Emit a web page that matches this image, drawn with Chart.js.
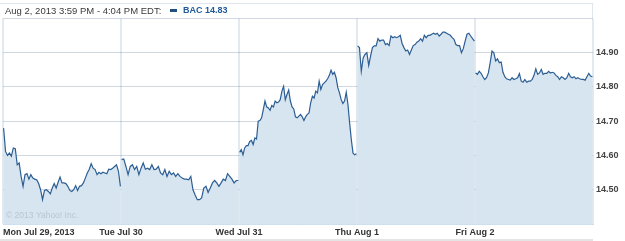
<!DOCTYPE html>
<html>
<head>
<meta charset="utf-8">
<script src="https://cdn.jsdelivr.net/npm/chart.js@4/dist/chart.umd.min.js"></script>
<style>
html,body{margin:0;padding:0;background:#fff;}
#wrap{position:relative;width:625px;height:241px;}
</style>
</head>
<body>
<div id="wrap"><canvas id="c" width="625" height="241"></canvas></div>
<script>
// ---- data (BAC intraday, Jul 29 – Aug 2, 2013) ----
const dayLabels = ['Mon Jul 29, 2013', 'Tue Jul 30', 'Wed Jul 31', 'Thu Aug 1', 'Fri Aug 2'];
const yTickLabels = ['14.50', '14.60', '14.70', '14.80', '14.90'];
const headerText = 'Aug 2, 2013 3:59 PM - 4:04 PM EDT:';
const seriesName = 'BAC 14.83';
const copyrightText = '\u00A9 2013 Yahoo! Inc.';

const mon = [14.680, 14.612, 14.600, 14.607, 14.598, 14.622, 14.620, 14.573, 14.578, 14.539, 14.510, 14.544, 14.547, 14.531, 14.544, 14.534, 14.531, 14.529, 14.518, 14.500, 14.471, 14.498, 14.500, 14.495, 14.488, 14.505, 14.518, 14.505, 14.522, 14.537, 14.520, 14.520, 14.518, 14.510, 14.498, 14.495, 14.500, 14.512, 14.498, 14.510, 14.512, 14.520, 14.534, 14.549, 14.560, 14.576, 14.563, 14.559, 14.544, 14.551, 14.547, 14.551, 14.549, 14.547, 14.560, 14.559, 14.563, 14.568, 14.573, 14.554, 14.510];
const tue = [14.588, 14.590, 14.568, 14.544, 14.568, 14.573, 14.559, 14.568, 14.544, 14.563, 14.578, 14.560, 14.563, 14.559, 14.573, 14.559, 14.560, 14.568, 14.549, 14.544, 14.559, 14.539, 14.554, 14.544, 14.549, 14.539, 14.547, 14.539, 14.534, 14.531, 14.531, 14.529, 14.539, 14.500, 14.485, 14.471, 14.471, 14.476, 14.505, 14.510, 14.492, 14.505, 14.520, 14.527, 14.520, 14.510, 14.520, 14.531, 14.527, 14.547, 14.539, 14.531, 14.520, 14.527, 14.527];
const wed = [14.609, 14.617, 14.602, 14.622, 14.629, 14.629, 14.641, 14.644, 14.632, 14.651, 14.648, 14.700, 14.702, 14.710, 14.734, 14.759, 14.742, 14.739, 14.732, 14.746, 14.742, 14.759, 14.754, 14.756, 14.763, 14.788, 14.802, 14.763, 14.778, 14.791, 14.759, 14.742, 14.736, 14.713, 14.710, 14.715, 14.720, 14.713, 14.702, 14.713, 14.720, 14.724, 14.754, 14.773, 14.768, 14.788, 14.783, 14.817, 14.793, 14.807, 14.812, 14.817, 14.824, 14.834, 14.849, 14.837, 14.843, 14.827, 14.798, 14.783, 14.763, 14.752, 14.759, 14.785, 14.749, 14.695, 14.646, 14.607, 14.602, 14.605];
const thu = [14.920, 14.915, 14.846, 14.885, 14.895, 14.900, 14.863, 14.890, 14.915, 14.920, 14.920, 14.941, 14.934, 14.937, 14.937, 14.924, 14.927, 14.921, 14.949, 14.944, 14.947, 14.944, 14.947, 14.951, 14.927, 14.915, 14.905, 14.908, 14.895, 14.908, 14.921, 14.924, 14.931, 14.934, 14.941, 14.934, 14.951, 14.944, 14.951, 14.951, 14.954, 14.957, 14.954, 14.957, 14.949, 14.954, 14.960, 14.960, 14.957, 14.954, 14.951, 14.944, 14.939, 14.924, 14.921, 14.921, 14.900, 14.912, 14.934, 14.954, 14.957, 14.949, 14.941, 14.934];
const fri = [14.841, 14.837, 14.846, 14.840, 14.830, 14.822, 14.827, 14.841, 14.871, 14.905, 14.900, 14.876, 14.882, 14.871, 14.873, 14.843, 14.830, 14.824, 14.822, 14.820, 14.827, 14.822, 14.824, 14.827, 14.839, 14.817, 14.814, 14.822, 14.814, 14.817, 14.817, 14.822, 14.834, 14.853, 14.837, 14.841, 14.851, 14.837, 14.840, 14.840, 14.846, 14.841, 14.843, 14.841, 14.834, 14.830, 14.822, 14.830, 14.827, 14.822, 14.827, 14.840, 14.830, 14.827, 14.830, 14.824, 14.827, 14.824, 14.822, 14.822, 14.820, 14.830, 14.840, 14.832, 14.830];

const sessions = [mon, tue, wed, thu, fri];

// build time-positioned points: x = day index + fraction of trading session
const points = [];
const dayOf = [];
sessions.forEach((arr, d) => {
  arr.forEach((v, i) => {
    points.push({ x: d + 0.005 + 0.99 * i / (arr.length - 1), y: v });
    dayOf.push(d);
  });
});

const LINE = '#2c5e94';
const FILL = '#d7e5f0';

const overlay = {
  id: 'overlay',
  beforeDraw(chart) {
    const c = chart.ctx;
    const a = chart.chartArea;
    c.save();
    c.strokeStyle = '#e0e6ec';
    c.lineWidth = 1;
    c.beginPath();
    c.moveTo(0, 3.5); c.lineTo(a.right + 0.5, 3.5);
    c.moveTo(a.right - 0.5, 3); c.lineTo(a.right - 0.5, a.top);
    c.stroke();
    c.fillStyle = '#e4e4e4';
    c.fillRect(0, 239, a.right, 2);
    c.textBaseline = 'middle';
    c.textAlign = 'left';
    c.fillStyle = '#3a3a3a';
    c.font = '9.5px "Liberation Sans", Arial, sans-serif';
    c.fillText(headerText, 5, 11, 157);
    c.fillStyle = '#1f4f80';
    c.fillRect(170, 9, 7, 3);
    c.fillStyle = '#1f5a99';
    c.font = 'bold 9px "Liberation Sans", Arial, sans-serif';
    c.fillText(seriesName, 183, 11);
    c.restore();
  },
  afterDraw(chart) {
    const c = chart.ctx;
    const a = chart.chartArea;
    const xs = chart.scales.x;
    c.save();
    c.font = '8.5px "Liberation Sans", Arial, sans-serif';
    c.fillStyle = '#b6c6d3';
    c.textBaseline = 'alphabetic';
    c.textAlign = 'left';
    c.fillText(copyrightText, 6, 218);
    c.font = 'bold 9px "Liberation Sans", Arial, sans-serif';
    c.fillStyle = '#333333';
    c.textBaseline = 'middle';
    dayLabels.forEach((lab, i) => {
      const px = xs.getPixelForValue(i);
      if (i === 0) { c.textAlign = 'left'; c.fillText(lab, a.left, 233); }
      else { c.textAlign = 'center'; c.fillText(lab, px, 233); }
    });
    c.restore();
  }
};

new Chart(document.getElementById('c'), {
  type: 'line',
  data: {
    datasets: [{
      label: seriesName,
      data: points,
      borderColor: LINE,
      backgroundColor: FILL,
      borderWidth: 1.2,
      fill: 'start',
      pointRadius: 0,
      tension: 0,
      segment: {
        borderColor: ctx => dayOf[ctx.p0DataIndex] !== dayOf[ctx.p1DataIndex] ? 'rgba(0,0,0,0)' : LINE
      }
    }]
  },
  options: {
    responsive: false,
    animation: false,
    events: [],
    layout: { padding: { top: 18.5, left: 3, right: 0, bottom: 0 } },
    plugins: { legend: { display: false }, tooltip: { enabled: false }, title: { display: false } },
    scales: {
      x: {
        type: 'linear',
        min: 0, max: 5,
        z: 1,
        afterBuildTicks: s => { s.ticks = [0, 1, 2, 3, 4, 5].map(v => ({ value: v })); },
        afterFit: s => { s.height = 17; },
        ticks: { display: false },
        grid: { color: '#e2e9ef', lineWidth: 2, drawTicks: false },
        border: { display: true, color: '#cddff0', width: 1 }
      },
      y: {
        position: 'right',
        min: 14.4, max: 15.0,
        z: 1,
        afterBuildTicks: s => { s.ticks = [14.4, 14.5, 14.6, 14.7, 14.8, 14.9, 15.0].map(v => ({ value: v })); },
        afterFit: s => { s.width = 32; },
        ticks: {
          padding: 3,
          color: '#444444',
          font: { family: '"Liberation Sans", Arial, sans-serif', size: 9, weight: 'bold' },
          callback: v => { const t = Number(v).toFixed(2); return yTickLabels.includes(t) ? t : ''; }
        },
        grid: { color: 'rgba(100,130,160,0.3)', lineWidth: 1, drawTicks: false },
        border: { display: false }
      }
    }
  },
  plugins: [overlay]
});
</script>
</body>
</html>
